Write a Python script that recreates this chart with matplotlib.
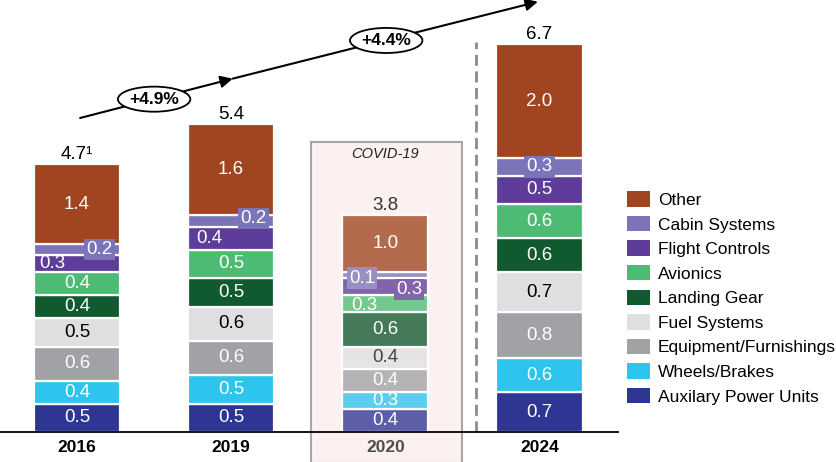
import numpy as np
import matplotlib.pyplot as plt
from matplotlib.patches import Rectangle, Ellipse, FancyArrowPatch, Patch
from matplotlib.colors import to_rgb

plt.rcParams['font.family'] = ['Liberation Sans', 'DejaVu Sans']

# данные
years = ['2016', '2019', '2020', '2024']
totals = ['4.7¹', '5.4', '3.8', '6.7']

apu = [0.5, 0.5, 0.4, 0.7]
wheels = [0.4, 0.5, 0.3, 0.6]
equipment = [0.6, 0.6, 0.4, 0.8]
fuel = [0.5, 0.6, 0.4, 0.7]
landing = [0.4, 0.5, 0.6, 0.6]
avionics = [0.4, 0.5, 0.3, 0.6]
flight = [0.3, 0.4, 0.3, 0.5]
cabin = [0.2, 0.2, 0.1, 0.3]
other = [1.4, 1.6, 1.0, 2.0]

names = ['Auxilary Power Units', 'Wheels/Brakes', 'Equipment/Furnishings',
         'Fuel Systems', 'Landing Gear', 'Avionics', 'Flight Controls',
         'Cabin Systems', 'Other']
series = [apu, wheels, equipment, fuel, landing, avionics, flight, cabin, other]
colors = ['#2E3592', '#2DC4EE', '#A1A2A5', '#DEDFE1', '#11592E', '#4DBB74',
          '#5E3C99', '#7B74B8', '#A0451F']

bg_pink = '#FDF0F0'
fade = 0.78

def faded(c):
    a = np.array(to_rgb(c))
    b = np.array(to_rgb(bg_pink))
    return tuple(a * fade + b * (1 - fade))

# смещения подписей для тонких сегментов (индекс года, индекс серии): (dx, dy, рамка)
label_shift = {
    (0, 7): (0.145, 0.0, True), (0, 6): (-0.16, 0.0, False),
    (1, 7): (0.145, 0.05, True), (1, 6): (-0.14, 0.0, False),
    (2, 7): (-0.15, -0.05, True), (2, 6): (0.155, -0.05, True),
    (2, 5): (-0.135, -0.03, False),
    (3, 7): (0.0, 0.0, True),
}

fig = plt.figure(figsize=(8.36, 4.62), dpi=100)
ax = fig.add_axes([0, 30 / 462, 618 / 836, 432 / 462])
ax.set_xlim(-0.5, 3.51)
ax.set_ylim(0, 7.58)

x = np.arange(len(years))
w = 0.56

# рамка COVID-19
ax.add_patch(Rectangle((1.52, -0.55), 0.98, 5.64, facecolor=bg_pink,
                       edgecolor='#A6A6A6', linewidth=1.5, clip_on=False, zorder=0.5))
ax.text(2, 4.88, 'COVID-19', ha='center', va='center', fontsize=10.5,
        style='italic', color='#222222')

bottom = np.zeros(len(years))
for j, (vals, col) in enumerate(zip(series, colors)):
    for i in range(len(years)):
        c = faded(col) if i == 2 else col
        ax.bar(x[i], vals[i], bottom=bottom[i], width=w, color=c,
               edgecolor='white', linewidth=1.6, zorder=2)
        if j == 3:
            tc = '#444444' if i == 2 else 'black'
        else:
            tc = 'white'
        dx, dy, boxed = label_shift.get((i, j), (0.0, 0.0, False))
        bb = None
        if boxed:
            bb = dict(boxstyle='square,pad=0.12', facecolor=c, edgecolor='none')
        ax.text(x[i] + dx, bottom[i] + vals[i] / 2 + dy, f'{vals[i]:.1f}',
                ha='center', va='center', fontsize=13.5, color=tc, bbox=bb, zorder=4)
    bottom += np.array(vals)

for i in range(len(years)):
    ax.annotate(totals[i], (x[i], bottom[i]), xytext=(0, 4),
                textcoords='offset points', ha='center', va='baseline',
                fontsize=13.5, color='black' if i != 2 else '#333333')

# пунктирная линия между факт/прогноз
ax.plot([2.59, 2.59], [0, 6.84], color='#8C8C8C', linewidth=2,
        linestyle=(0, (4, 2)), zorder=1)

# стрелка роста
p0, p1, p2 = (0.02, 5.51), (1.01, 6.20), (2.99, 7.55)
for a, b in [(p0, p1), (p1, p2)]:
    ax.add_patch(FancyArrowPatch(a, b, arrowstyle='-|>,head_length=0.6,head_width=0.3',
                                 mutation_scale=12, color='black', linewidth=1.5,
                                 shrinkA=0, shrinkB=0, clip_on=False, zorder=3))
for cx, cy, txt in [(0.5, 5.84, '+4.9%'), (2.006, 6.87, '+4.4%')]:
    ax.add_patch(Ellipse((cx, cy), 0.47, 0.44, facecolor='white', edgecolor='black',
                         linewidth=1.3, clip_on=False, zorder=4))
    ax.text(cx, cy, txt, ha='center', va='center', fontsize=12.5,
            fontweight='bold', zorder=5)

for s in ['top', 'right', 'left']:
    ax.spines[s].set_visible(False)
ax.spines['bottom'].set_linewidth(1.3)
ax.spines['bottom'].set_zorder(3)
ax.set_yticks([])
ax.set_xticks(x)
ax.set_xticklabels(years, fontsize=12.5, fontweight='bold')
ax.get_xticklabels()[2].set_color('#4D4D4D')
ax.tick_params(axis='x', length=0, pad=6)

handles = [Patch(facecolor=c, edgecolor='none') for c in colors][::-1]
fig.legend(handles, names[::-1], loc='center left', bbox_to_anchor=(0.75, 0.355),
           frameon=False, fontsize=12.5, handlelength=1.32, handleheight=0.98,
           handletextpad=0.45, labelspacing=0.46, borderpad=0, borderaxespad=0)

plt.savefig('out.png', dpi=100)
